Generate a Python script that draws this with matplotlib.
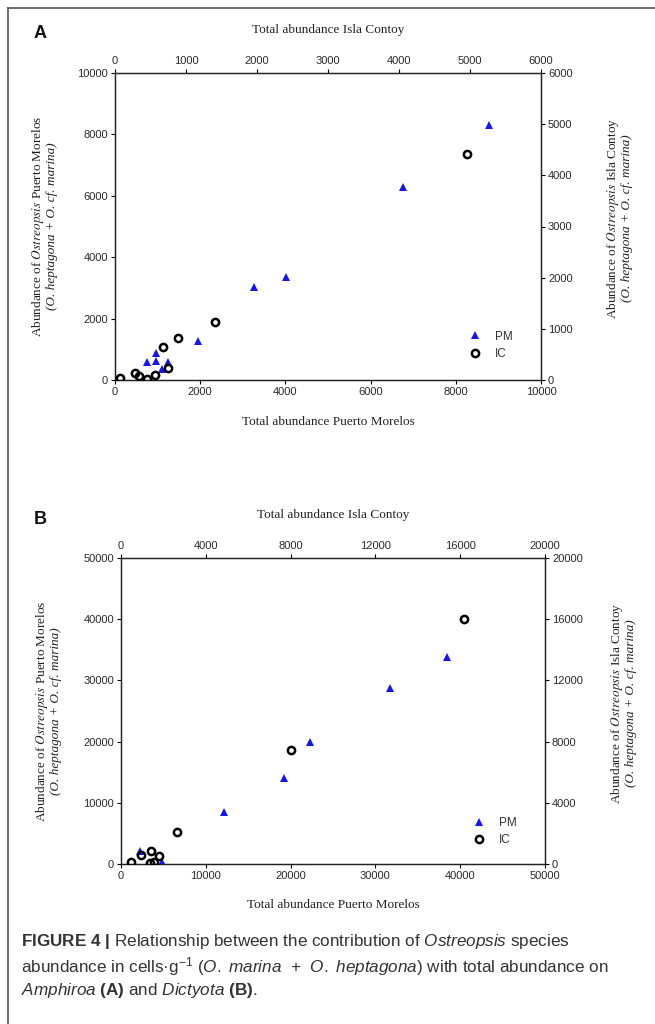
import matplotlib
matplotlib.use("Agg")
import matplotlib.pyplot as plt
from matplotlib.lines import Line2D

# --- data ---
# panel A (Amphiroa): PM on bottom/left axes, IC on top/right axes
a_pm_x = [8790, 6770, 4010, 3260, 1960, 960, 745, 960, 1240, 1110]
a_pm_y = [8320, 6280, 3360, 3020, 1280, 890, 600, 630, 580, 350]
a_ic_x = [4960, 1410, 890, 680, 740, 565, 445, 340, 285, 70]
a_ic_y = [4420, 1130, 820, 640, 230, 100, 15, 85, 145, 35]

# panel B (Dictyota)
b_pm_x = [38500, 31700, 22300, 19200, 12100, 2280, 4800]
b_pm_y = [33900, 28800, 20000, 14100, 8500, 2150, 250]
b_ic_x = [16170, 8010, 2640, 1410, 1810, 960, 490, 1380, 1570]
b_ic_y = [16010, 7440, 2060, 870, 520, 580, 160, 60, 160]

a_pm_ticks = [0, 2000, 4000, 6000, 8000, 10000]
a_ic_ticks = [0, 1000, 2000, 3000, 4000, 5000, 6000]
b_pm_ticks = [0, 10000, 20000, 30000, 40000, 50000]
b_ic_ticks = [0, 4000, 8000, 12000, 16000, 20000]

W, H = 655, 1024
plt.rcParams['mathtext.fontset'] = 'custom'
plt.rcParams['mathtext.rm'] = 'Liberation Sans'
plt.rcParams['mathtext.it'] = 'Liberation Sans:italic'
plt.rcParams['mathtext.bf'] = 'Liberation Sans:bold'

fig = plt.figure(figsize=(W / 100, H / 100), dpi=100)
fig.patch.set_facecolor('white')


def fx(x):
    return x / W


def fy(y):
    return 1 - y / H


serif = dict(family='Liberation Serif', fontsize=9.5, color='#222222', math_fontfamily='stix')
line2 = '(O. heptagona + O. cf. marina)'


def panel(box, pm_x, pm_y, ic_x, ic_y, pm_ticks, ic_ticks, letter, letter_xy, lab):
    l, t, r, b = box
    rect = [fx(l), fy(b), fx(r) - fx(l), fy(t) - fy(b)]
    ax = fig.add_axes(rect)
    ax2 = fig.add_axes(rect, facecolor='none')
    ax2.xaxis.tick_top()
    ax2.yaxis.tick_right()

    pm, = ax.plot(pm_x, pm_y, '^', color='#1414f5', ms=5.5, mew=0, zorder=3)
    ic, = ax2.plot(ic_x, ic_y, 'o', mfc='none', mec='black', ms=5.2, mew=1.8, zorder=4)

    ax.set_xlim(pm_ticks[0], pm_ticks[-1])
    ax.set_ylim(pm_ticks[0], pm_ticks[-1])
    ax.set_xticks(pm_ticks)
    ax.set_yticks(pm_ticks)
    ax2.set_xlim(ic_ticks[0], ic_ticks[-1])
    ax2.set_ylim(ic_ticks[0], ic_ticks[-1])
    ax2.set_xticks(ic_ticks)
    ax2.set_yticks(ic_ticks)
    for a in (ax, ax2):
        for s in a.spines.values():
            s.set_linewidth(0.9)
            s.set_color('#222222')
        a.tick_params(direction='out', length=3, width=0.8, labelsize=8,
                      labelcolor='#2a2a2a', pad=2)
        for tl in a.get_xticklabels() + a.get_yticklabels():
            tl.set_family('Liberation Sans')

    leg = ax2.legend([pm, ic], ['PM', 'IC'], loc='lower right', frameon=False,
                     bbox_to_anchor=lab['leg'], borderaxespad=0,
                     handletextpad=1.2, labelspacing=0.45, handlelength=1.0,
                     prop={'family': 'Liberation Sans', 'size': 8.5})
    for tx in leg.get_texts():
        tx.set_color('#333333')

    cx = (l + r) / 2
    cy = (t + b) / 2
    fig.text(fx(cx), fy(lab['top']), 'Total abundance Isla Contoy', ha='center', va='center', **serif)
    fig.text(fx(cx), fy(lab['bot']), 'Total abundance Puerto Morelos', ha='center', va='center', **serif)
    # left y label (two lines)
    fig.text(fx(lab['left']), fy(cy), 'Abundance of $\\mathit{Ostreopsis}$ Puerto Morelos',
             rotation=90, ha='center', va='center', **serif)
    fig.text(fx(lab['left'] + 14), fy(cy), line2, rotation=90, ha='center', va='center',
             style='italic', **serif)
    # right y label (two lines)
    fig.text(fx(lab['right']), fy(cy - 8), 'Abundance of $\\mathit{Ostreopsis}$ Isla Contoy',
             rotation=90, ha='center', va='center', **serif)
    fig.text(fx(lab['right'] + 14), fy(cy - 8), line2, rotation=90, ha='center', va='center',
             style='italic', **serif)
    fig.text(fx(letter_xy[0]), fy(letter_xy[1]), letter, ha='center', va='center',
             family='Liberation Sans', weight='bold', fontsize=13, color='#111111')


panel((115, 73, 541, 380), a_pm_x, a_pm_y, a_ic_x, a_ic_y, a_pm_ticks, a_ic_ticks,
      'A', (40, 34), dict(top=30, bot=422, left=38, right=613, leg=(0.945, 0.05)))
panel((121, 558, 545, 864), b_pm_x, b_pm_y, b_ic_x, b_ic_y, b_pm_ticks, b_ic_ticks,
      'B', (40, 520), dict(top=515, bot=905, left=42, right=617, leg=(0.945, 0.042)))

# outer frame (left and top edges only)
fig.add_artist(Line2D([fx(8), fx(8)], [fy(8), 0], transform=fig.transFigure,
                      color='#555555', lw=1.2))
fig.add_artist(Line2D([fx(8), 1], [fy(8), fy(8)], transform=fig.transFigure,
                      color='#555555', lw=1.2))

caption = ("$\\mathbf{FIGURE\\ 4\\ |}$ Relationship between the contribution of "
           "$\\mathit{Ostreopsis}$ species\n"
           "abundance in cells\u00b7g$^{-1}$ ($\\mathit{O.\\ marina}$  +  "
           "$\\mathit{O.\\ heptagona)}$ with total abundance on\n"
           "$\\mathit{Amphiroa}$ $\\mathbf{(A)}$ and $\\mathit{Dictyota}$ $\\mathbf{(B)}$.")
fig.text(fx(21), fy(932), caption, ha='left', va='top', family='Liberation Sans',
         fontsize=12.3, color='#333333', linespacing=1.22)

fig.savefig('out.png', dpi=100, facecolor='white')
